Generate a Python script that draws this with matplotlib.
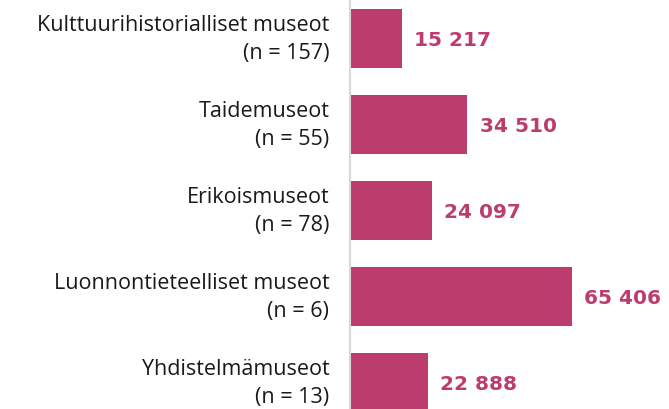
import matplotlib
matplotlib.use("Agg")
import matplotlib.pyplot as plt

categories = ["Kulttuurihistorialliset museot", "Taidemuseot", "Erikoismuseot",
              "Luonnontieteelliset museot", "Yhdistelmämuseot"]
counts = [157, 55, 78, 6, 13]
values = [15217, 34510, 24097, 65406, 22888]

bar_color = "#BC3C6E"

fig = plt.figure(figsize=(6.69, 4.10), dpi=100)
ax = fig.add_axes([350 / 669, 0, 1 - 350 / 669, 1])

y = list(range(len(values)))
ax.barh(y, values, height=0.686, color=bar_color)

ax.set_xlim(0, 94000)
top = -39.5 / 86
ax.set_ylim(top + 410 / 86, top)

for s in ["top", "right", "bottom"]:
    ax.spines[s].set_visible(False)
ax.spines["left"].set_color("#d9d9d9")
ax.spines["left"].set_linewidth(1.5)
ax.set_xticks([])
ax.set_yticks([])

for i, (cat, n, v) in enumerate(zip(categories, counts, values)):
    ax.annotate(f"{cat}\n(n = {n})", xy=(0, i), xycoords=("axes fraction", "data"),
                xytext=(-15, 0), textcoords="offset points",
                ha="right", va="center", multialignment="right",
                fontsize=15.5, family="Open Sans", color="#1a1a1a",
                linespacing=1.45, annotation_clip=False)
    label = f"{v:,}".replace(",", " ")
    ax.annotate(label, xy=(v, i), xytext=(9, -1), textcoords="offset points",
                ha="left", va="center", fontsize=14.5, fontweight="bold",
                family="DejaVu Sans", color=bar_color, annotation_clip=False)

fig.savefig("out.png", dpi=100)
